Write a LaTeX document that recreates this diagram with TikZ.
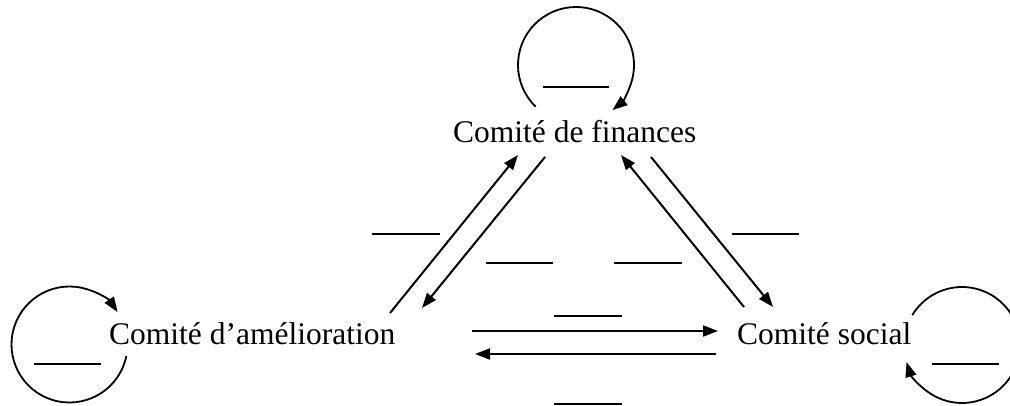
\documentclass[tikz,border=0pt]{standalone}
\usepackage{fontspec}
\setmainfont{Liberation Serif}
\usetikzlibrary{arrows.meta}
\begin{document}
\begin{tikzpicture}[x=1pt,y=1pt,
  lbl/.style={inner sep=0pt,font=\fontsize{31.5}{38}\selectfont},
  blank/.style={line width=2pt},
  conn/.style={line width=2pt,-{Triangle[length=15pt,width=11pt]}},
  loopline/.style={line width=1.8pt,-{Triangle[length=15pt,width=11pt]}}]
\useasboundingbox (0,0) rectangle (1010,-406);
\clip (0,0) rectangle (1010,-406);
% committees
\node[lbl,anchor=base west] (fin) at (453,-143) {Comité de finances};
\node[lbl,anchor=base west] (ame) at (109,-344) {Comité d’amélioration};
\node[lbl,anchor=base west] (soc) at (737,-344) {Comité social};
% loop centres
\coordinate (cf) at (576,-65);
\coordinate (ca) at (69.5,-344.5);
\coordinate (cs) at (962,-345);
% self loops
\draw[loopline] ([shift={(226:58)}]cf) arc[start angle=226,end angle=-51,radius=58];
\draw[loopline] ([shift={(-11.5:58)}]ca) arc[start angle=-11.5,end angle=-326,radius=58];
\draw[loopline] ([shift={(149:58)}]cs) arc[start angle=149,end angle=-163,radius=58];
% connector end points
\coordinate (a1s) at (390,-313); \coordinate (a1e) at (518,-155);
\coordinate (a2s) at (545,-157); \coordinate (a2e) at (422,-308);
\coordinate (a3s) at (744,-307); \coordinate (a3e) at (621,-155);
\coordinate (a4s) at (651,-157); \coordinate (a4e) at (773,-307);
\coordinate (a5s) at (472,-331); \coordinate (a5e) at (718,-331);
\coordinate (a6s) at (716,-354); \coordinate (a6e) at (475,-354);
\draw[conn] (a1s) -- (a1e);
\draw[conn] (a2s) -- (a2e);
\draw[conn] (a3s) -- (a3e);
\draw[conn] (a4s) -- (a4e);
\draw[conn] (a5s) -- (a5e);
\draw[conn] (a6s) -- (a6e);
% blanks
\draw[blank] (543,-87) -- (609,-87);
\draw[blank] (34,-364) -- (101,-364);
\draw[blank] (932,-364) -- (999,-364);
\draw[blank] (372,-234) -- (440,-234);
\draw[blank] (486,-263) -- (553,-263);
\draw[blank] (614,-263) -- (682,-263);
\draw[blank] (732,-234) -- (799,-234);
\draw[blank] (554,-316) -- (622,-316);
\draw[blank] (554,-404) -- (622,-404);
\end{tikzpicture}
\end{document}
